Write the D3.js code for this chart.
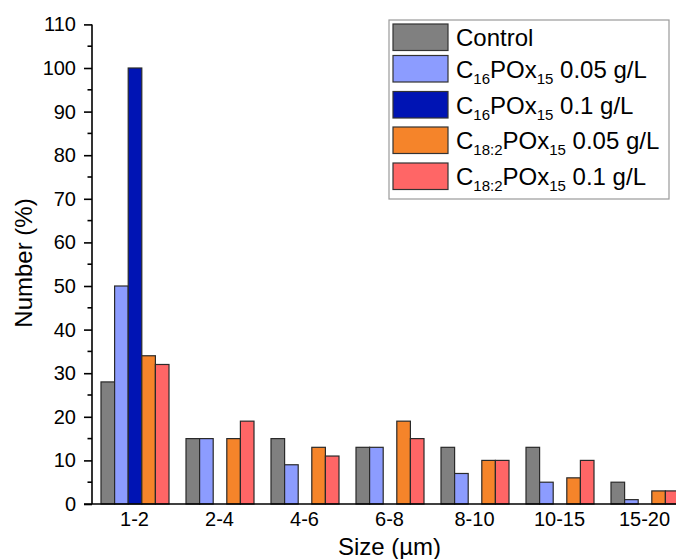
<!DOCTYPE html>
<html>
<head>
<meta charset="utf-8">
<script src="https://cdn.jsdelivr.net/npm/d3@7"></script>
<style>
  html, body { margin: 0; padding: 0; background: #fff; }
  svg { display: block; font-family: "Liberation Sans", Arial, sans-serif; }
</style>
</head>
<body>
<svg id="chart" width="676" height="559"></svg>
<script>
// ---- data ----
const categories = ["1-2", "2-4", "4-6", "6-8", "8-10", "10-15", "15-20"];
const seriesKeys = ["control", "c16_005", "c16_01", "c182_005", "c182_01"];
const control   = [28, 15, 15, 13, 13, 13, 5];
const c16_005   = [50, 15, 9, 13, 7, 5, 1];
const c16_01    = [100, 0, 0, 0, 0, 0, 0];
const c182_005  = [34, 15, 13, 19, 10, 6, 3];
const c182_01   = [32, 19, 11, 15, 10, 10, 3];
const seriesValues = [control, c16_005, c16_01, c182_005, c182_01];
// legend label parts: [text, isSubscript]
const legendLabels = [
  [["Control", false]],
  [["C", false], ["16", true], ["POx", false], ["15", true], [" 0.05 g/L", false]],
  [["C", false], ["16", true], ["POx", false], ["15", true], [" 0.1 g/L", false]],
  [["C", false], ["18:2", true], ["POx", false], ["15", true], [" 0.05 g/L", false]],
  [["C", false], ["18:2", true], ["POx", false], ["15", true], [" 0.1 g/L", false]]
];
const yTicks = [0, 10, 20, 30, 40, 50, 60, 70, 80, 90, 100, 110];
const xTitle = "Size (µm)";
const yTitle = "Number (%)";

// ---- styles ----
const colors = ["#808080", "#8C9CFF", "#0014B4", "#F5842A", "#FF6666"];

const svg = d3.select("#chart");
const plotLeft = 92, plotRight = 687, plotBottom = 504, plotTop = 24.4;

const x0 = d3.scaleBand().domain(categories).range([plotLeft, plotRight])
  .paddingInner(0.2).paddingOuter(0.1);
const x1 = d3.scaleBand().domain(seriesKeys).range([0, x0.bandwidth()]);
const y = d3.scaleLinear().domain([0, 110]).range([plotBottom, plotTop]);
const color = d3.scaleOrdinal().domain(seriesKeys).range(colors);

// bars
const rows = [];
categories.forEach((c, ci) => {
  seriesKeys.forEach((k, si) => {
    const v = seriesValues[si][ci];
    if (v > 0) rows.push({ cat: c, key: k, value: v });
  });
});
svg.append("g").selectAll("rect").data(rows).join("rect")
  .attr("x", d => x0(d.cat) + x1(d.key) + 0.5)
  .attr("y", d => y(d.value))
  .attr("width", x1.bandwidth())
  .attr("height", d => y(0) - y(d.value))
  .attr("fill", d => color(d.key))
  .attr("stroke", "#2a2a2a")
  .attr("stroke-width", 1.2);

// y axis (major)
const yAxis = d3.axisLeft(y).tickValues(yTicks).tickSize(8).tickPadding(8);
const gy = svg.append("g").attr("transform", `translate(${plotLeft},0)`).call(yAxis);
gy.select(".domain").remove();
gy.selectAll(".tick line").attr("stroke", "#000").attr("stroke-width", 1.6);
gy.selectAll(".tick text").attr("font-size", 20).attr("fill", "#000")
  .attr("font-family", "Liberation Sans, Arial, sans-serif");
// minor ticks
const minor = d3.range(5, 110, 10);
svg.append("g").selectAll("line").data(minor).join("line")
  .attr("x1", plotLeft - 4.5).attr("x2", plotLeft)
  .attr("y1", d => y(d)).attr("y2", d => y(d))
  .attr("stroke", "#000").attr("stroke-width", 1.6);
// y axis line
svg.append("line").attr("x1", plotLeft).attr("x2", plotLeft)
  .attr("y1", y(110)).attr("y2", y(0)).attr("stroke", "#000").attr("stroke-width", 1.6);

// x axis
const xAxis = d3.axisBottom(x0).tickSize(0).tickPadding(8);
const gx = svg.append("g").attr("transform", `translate(0,${plotBottom})`).call(xAxis);
gx.select(".domain").remove();
gx.selectAll(".tick text").attr("font-size", 20).attr("fill", "#000")
  .attr("font-family", "Liberation Sans, Arial, sans-serif");
svg.append("line").attr("x1", plotLeft - 8).attr("x2", plotRight)
  .attr("y1", plotBottom).attr("y2", plotBottom).attr("stroke", "#000").attr("stroke-width", 1.6);

// axis titles
svg.append("text").attr("x", (plotLeft + plotRight) / 2).attr("y", 555)
  .attr("text-anchor", "middle").attr("font-size", 24).text(xTitle);
svg.append("text").attr("transform", `translate(32,263) rotate(-90)`)
  .attr("text-anchor", "middle").attr("font-size", 24).text(yTitle);

// legend
const lg = svg.append("g");
lg.append("rect").attr("x", 389).attr("y", 20).attr("width", 280).attr("height", 179)
  .attr("fill", "#fff").attr("stroke", "#9a9a9a").attr("stroke-width", 1.2);
const rowTops = [24, 55.5, 91.5, 127, 163];
seriesKeys.forEach((k, i) => {
  const top = rowTops[i];
  lg.append("rect").attr("x", 393).attr("y", top).attr("width", 55).attr("height", 26.5)
    .attr("fill", color(k)).attr("stroke", "#333").attr("stroke-width", 1.2);
  const t = lg.append("text").attr("x", 456).attr("y", top + 22).attr("font-size", 24);
  let sub = false;
  legendLabels[i].forEach(([txt, isSub]) => {
    const ts = t.append("tspan").text(txt);
    if (isSub && !sub) { ts.attr("font-size", 15).attr("dy", 6); sub = true; }
    else if (isSub && sub) { ts.attr("font-size", 15); }
    else if (!isSub && sub) { ts.attr("dy", -6); sub = false; }
  });
});
</script>
</body>
</html>
